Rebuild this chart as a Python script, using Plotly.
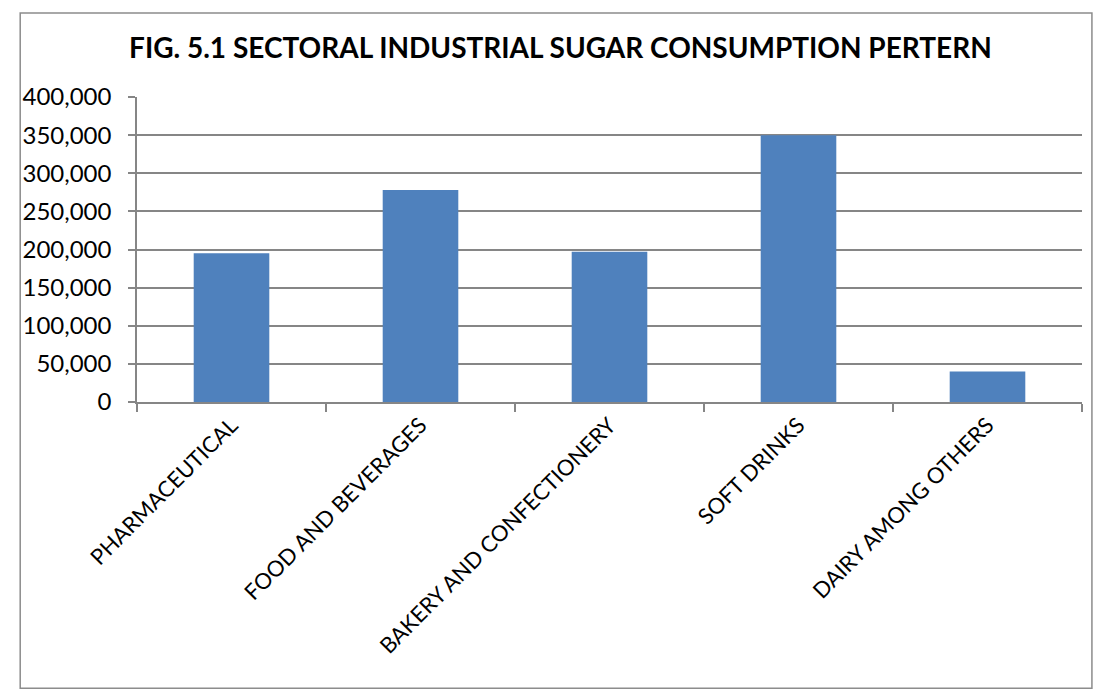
import plotly.graph_objects as go

# Industrial sugar consumption by sector
sectors = [
    "PHARMACEUTICAL",
    "FOOD AND BEVERAGES",
    "BAKERY AND CONFECTIONERY",
    "SOFT DRINKS",
    "DAIRY AMONG OTHERS",
]
consumption = [195000, 278000, 197000, 350000, 40000]

y_ticks = [0, 50000, 100000, 150000, 200000, 250000, 300000, 350000, 400000]
y_tick_labels = ["0", "50,000", "100,000", "150,000", "200,000",
                 "250,000", "300,000", "350,000", "400,000"]

FONT = "Lato, 'Open Sans', sans-serif"
GRID = "#868686"

fig = go.Figure(
    go.Bar(
        x=sectors,
        y=consumption,
        marker=dict(color="#4f81bd", line=dict(width=0)),
    )
)

fig.update_layout(
    width=1101,
    height=693,
    margin=dict(l=137, r=19, t=97, b=291),
    paper_bgcolor="white",
    plot_bgcolor="white",
    bargap=0.6,
    showlegend=False,
    title=dict(
        text="<b>FIG. 5.1 SECTORAL INDUSTRIAL SUGAR CONSUMPTION PERTERN</b>",
        x=0.509,
        xanchor="center",
        y=0.93,
        yanchor="middle",
        font=dict(family=FONT, size=28, color="black"),
    ),
    font=dict(family=FONT, color="black"),
    shapes=[
        dict(
            type="rect", xref="paper", yref="paper",
            x0=-0.1236, x1=1.0105, y0=-0.9383, y1=1.2754,
            line=dict(color="#8c8c8c", width=1.5),
            fillcolor="rgba(0,0,0,0)",
        )
    ],
)

fig.update_yaxes(
    range=[0, 400000],
    tickvals=y_ticks,
    ticktext=y_tick_labels,
    showgrid=True,
    gridcolor=GRID,
    gridwidth=1.5,
    showline=True,
    linecolor=GRID,
    linewidth=1.5,
    ticks="outside",
    ticklen=7,
    tickcolor=GRID,
    tickwidth=1.5,
    ticklabelstandoff=12,
    tickfont=dict(family=FONT, size=24, color="black"),
    zeroline=False,
)

fig.update_xaxes(
    showline=True,
    linecolor=GRID,
    linewidth=1.5,
    ticks="outside",
    tickson="boundaries",
    ticklen=8,
    tickcolor=GRID,
    tickwidth=1.5,
    tickangle=-45,
    tickfont=dict(family=FONT, size=22, color="black"),
    showgrid=False,
)

fig.write_html("out.html")
